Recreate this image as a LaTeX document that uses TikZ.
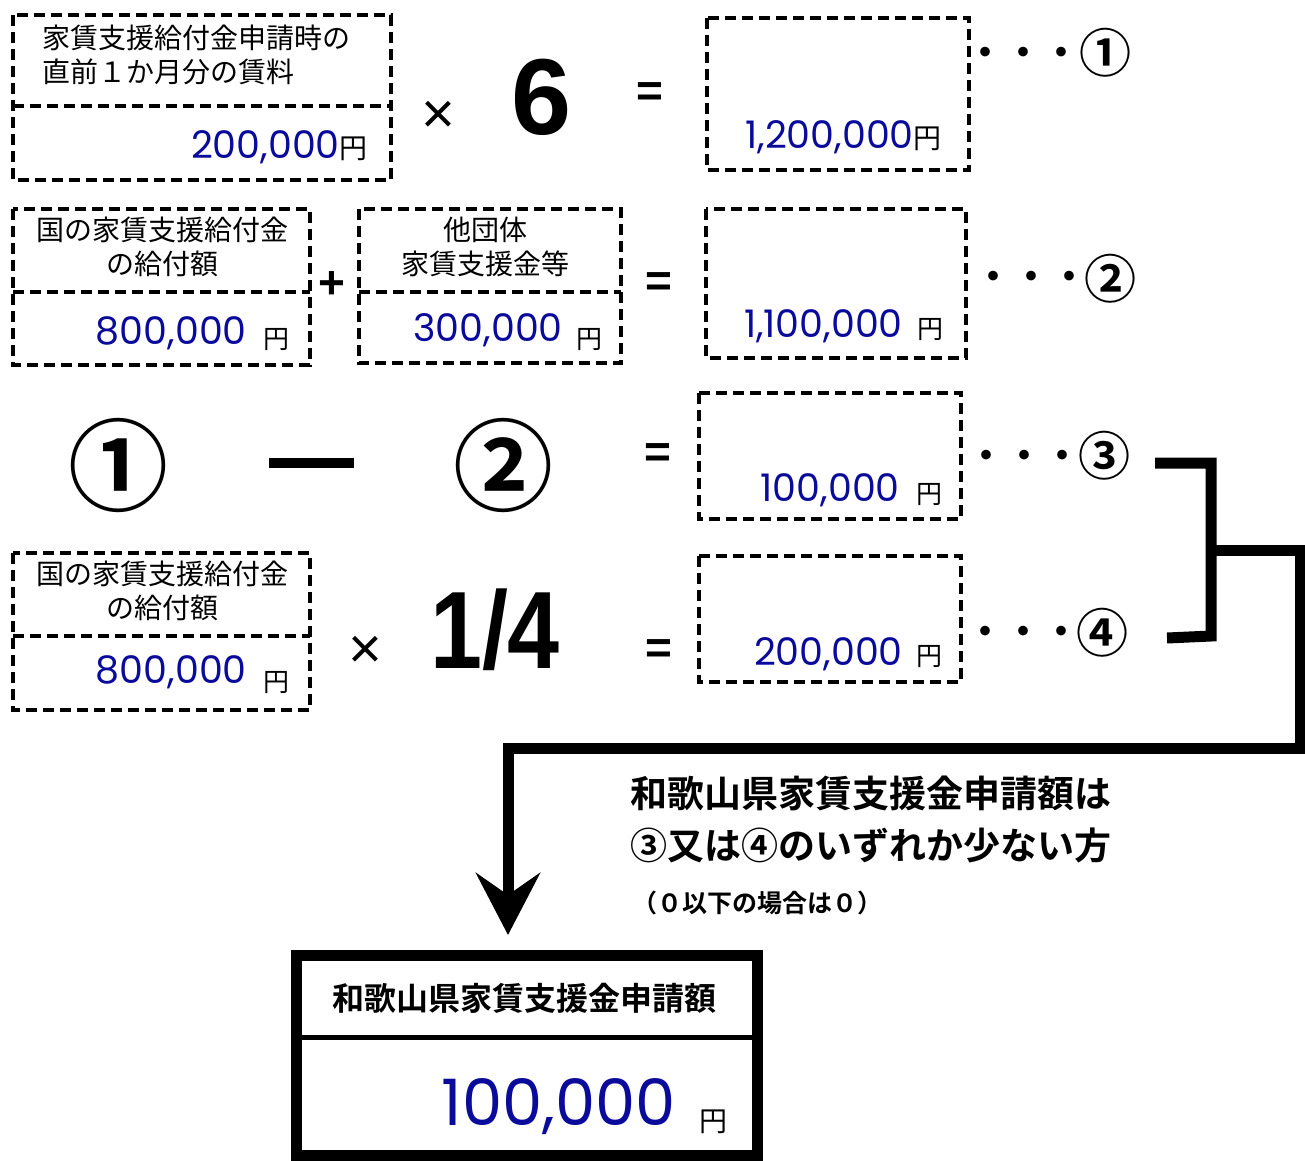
\documentclass[tikz,border=0pt]{standalone}
\usepackage{fontspec}
\setmainfont{Liberation Sans}
\newfontfamily\jp{Noto Sans CJK JP}[BoldFont={Noto Sans CJK JP Bold}]
\newfontfamily\numfont{Poppins}
\usetikzlibrary{arrows.meta}
\definecolor{numblue}{RGB}{10,10,155}

\begin{document}
\begin{tikzpicture}[x=1pt,y=-1pt]
\newcommand{\fsz}[1]{\fontsize{#1}{#1}\selectfont}
\newcommand{\dashrect}{\draw[line width=3.5pt, dash pattern=on 11pt off 6pt]}
\newcommand{\yen}[1]{{\color{black}\jp\fsz{#1}円}}
\newcommand{\tridots}{・・・}
\tikzset{every node/.style={inner sep=0pt},
  jplabel/.style={font=\jp\fsz{28}},
  value/.style={anchor=east, text=numblue, font=\numfont\fsz{38}},
  yenmark/.style={font=\jp\fsz{26}},
  op/.style={font=\fsz{58}},
  eq/.style={font=\bfseries\fsz{46}},
  dotrow/.style={font=\jp\bfseries\fsz{38}},
  circnum/.style={font=\jp\bfseries\fsz{52}},
  bignum/.style={font=\jp\bfseries\fsz{100}},
  link/.style={line width=11pt, line join=miter}}
\useasboundingbox (0,0) rectangle (1305,1160);

    % row 1
    \dashrect (13,15) rectangle (391,180);
    \dashrect (13,106) -- (391,106);
    \node[jplabel, anchor=west] (rentA) at (42,38) {家賃支援給付金申請時の};
    \node[jplabel, anchor=west] (rentB) at (42,72) {直前１か月分の賃料};
    \node[value] (rent) at (368,147) {200,000\yen{28}};
    \node[op] (times1) at (438,117) {×};
    \node[font=\bfseries\fsz{108}] (six) at (542,97) {6};
    \node[eq] (eq1) at (650,95) {=};
    \dashrect (707,18) rectangle (969,170);
    \node[value] (res1) at (942,137) {1,200,000\yen{28}};
    \node[dotrow] (dots1) at (1023,57) {\tridots};
    \node[circnum] (n1) at (1105,53) {①};

    % row 2
    \dashrect (13,209) rectangle (310,365);
    \dashrect (13,292) -- (310,292);
    \node[jplabel] (natA) at (162,230) {国の家賃支援給付金};
    \node[jplabel] (natB) at (162,264) {の給付額};
    \node[value] (nat) at (247,333) {800,000};
    \node[yenmark] (natyen) at (276,340) {円};
    \node[eq] (plus) at (332,285) {+};
    \dashrect (359,209) rectangle (621,363);
    \dashrect (359,292) -- (621,292);
    \node[jplabel] (othA) at (485,230) {他団体};
    \node[jplabel] (othB) at (485,264) {家賃支援金等};
    \node[value] (oth) at (563,330) {300,000};
    \node[yenmark] (othyen) at (589,340) {円};
    \node[eq] (eq2) at (659,285) {=};
    \dashrect (706,209) rectangle (966,358);
    \node[value] (res2) at (903,326) {1,100,000};
    \node[yenmark] (res2yen) at (930,330) {円};
    \node[dotrow] (dots2) at (1031,281) {\tridots};
    \node[circnum] (n2) at (1110,279) {②};

    % row 3
    \node[bignum] (big1) at (118,465) {①};
    \fill (269,458) rectangle (354,468);
    \node[bignum] (big2) at (503,465) {②};
    \node[eq] (eq3) at (658,456) {=};
    \dashrect (699,393) rectangle (961,519);
    \node[value] (res3) at (900,490) {100,000};
    \node[yenmark] (res3yen) at (929,495) {円};
    \node[dotrow] (dots3) at (1024,460) {\tridots};
    \node[circnum] (n3) at (1104,456) {③};

    % row 4
    \dashrect (13,553) rectangle (310,710);
    \dashrect (13,636) -- (310,636);
    \node[jplabel] (natC) at (162,574) {国の家賃支援給付金};
    \node[jplabel] (natD) at (162,608) {の給付額};
    \node[value] (nat2) at (247,672) {800,000};
    \node[yenmark] (nat2yen) at (276,683) {円};
    \node[op] (times2) at (365,652) {×};
    \node[font=\bfseries\fsz{110}] (quarter) at (495,630) {\scalebox{0.85}[1]{1/4}};
    \node[eq] (eq4) at (659,652) {=};
    \dashrect (699,556) rectangle (961,682);
    \node[value] (res4) at (903,654) {200,000};
    \node[yenmark] (res4yen) at (929,657) {円};
    \node[dotrow] (dots4) at (1023,636) {\tridots};
    \node[circnum] (n4) at (1102,633) {④};

    % bracket and arrow
    \coordinate (b3) at (1155,463);
    \coordinate (b4) at (1167,638);
    \coordinate (join) at (1211,550);
    \coordinate (tip) at (508,935);
    \draw[link] (b3) -- (1211,463) -- (1211,636) -- (b4);
    \draw[link, -{Stealth[length=62pt,width=64pt,inset=22pt]}] (join) -- (1300,550) -- (1300,748) -- (508,748) -- (tip);

    \node[font=\jp\bfseries\fsz{37}, anchor=west] (ruleA) at (630,793) {和歌山県家賃支援金申請額は};
    \node[font=\jp\bfseries\fsz{37}, anchor=west] (ruleB) at (630,845) {③又は④のいずれか少ない方};
    \node[font=\jp\bfseries\fsz{25}, anchor=west] (ruleC) at (632,903) {（０以下の場合は０）};

    % result box
    \draw[line width=11pt] (296,955) rectangle (757,1155);
    \draw[line width=5pt] (296,1037) -- (757,1037);
    \node[font=\jp\bfseries\fsz{32}] (total) at (524,998) {和歌山県家賃支援金申請額};
    \node[value, font=\numfont\fsz{64}] (amount) at (676,1107) {100,000};
    \node[yenmark, font=\jp\fsz{28}] (amountyen) at (713,1122) {円};
\end{tikzpicture}
\end{document}
